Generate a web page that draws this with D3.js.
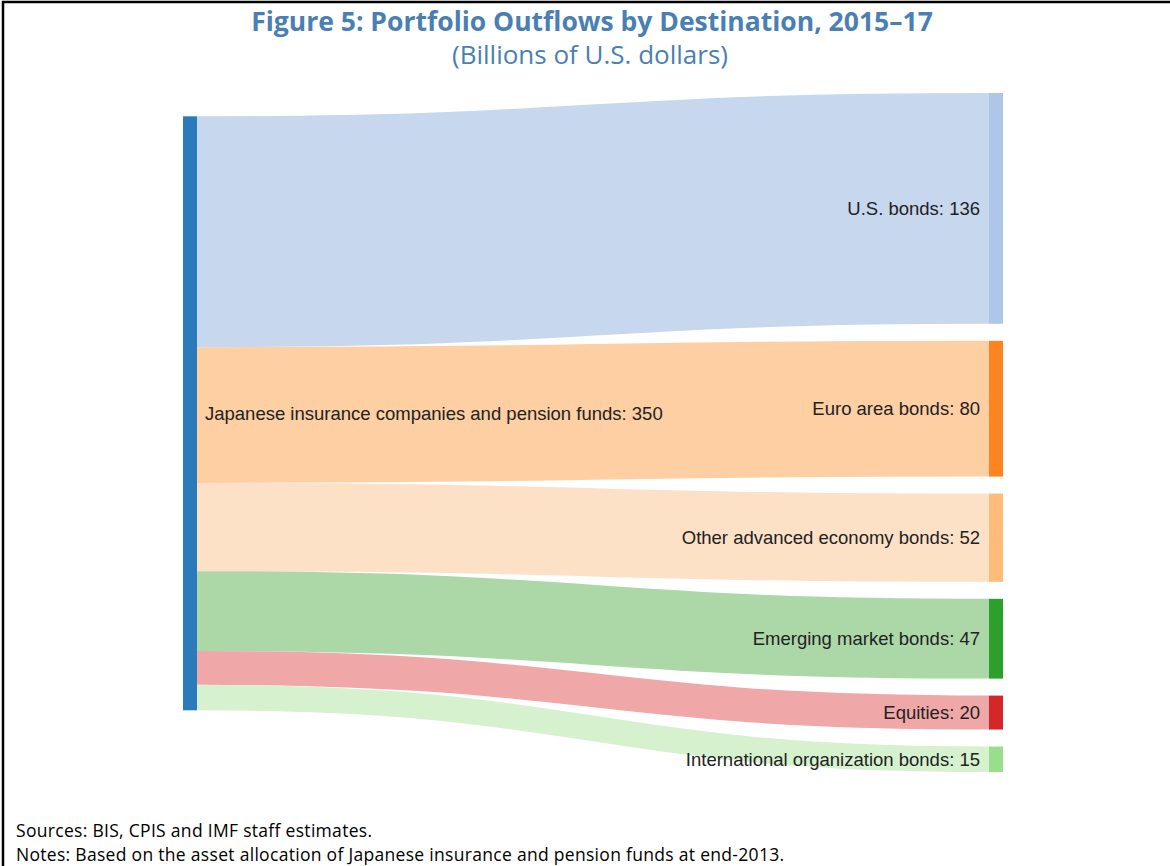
<!DOCTYPE html>
<html>
<head>
<meta charset="utf-8">
<script src="https://cdn.jsdelivr.net/npm/d3@7/dist/d3.min.js"></script>
<style>
  html, body { margin: 0; padding: 0; background: #fff; }
  svg { display: block; }
</style>
</head>
<body>
<svg id="chart" width="1170" height="866"></svg>
<script>
// ---------- DATA ----------
const sourceName = "Japanese insurance companies and pension funds";
const sourceTotal = 350;
const destinations = [
  "U.S. bonds",
  "Euro area bonds",
  "Other advanced economy bonds",
  "Emerging market bonds",
  "Equities",
  "International organization bonds"
];
const flowValues = [136, 80, 52, 47, 20, 15];
const sourceColor = "#2b7bba";
const nodeColors = ["#aec7e8", "#fd8421", "#ffbb78", "#2ca02c", "#d62728", "#98df8a"];
const linkColors = ["#c6d7ee", "#fdcfa3", "#fde1c7", "#acd8a8", "#efa7a8", "#d5f1ce"];
const titleText = "Figure 5: Portfolio Outflows by Destination, 2015\u201317";
const subtitleText = "(Billions of U.S. dollars)";
const footnotes = [
  "Sources: BIS, CPIS and IMF staff estimates.",
  "Notes: Based on the asset allocation of Japanese insurance and pension funds at end-2013."
];

// ---------- LAYOUT ----------
const W = 1170, H = 866;
const svg = d3.select("#chart");

const nodeWidth = 14;
const nodePadding = 17;
const extentTop = 93, extentBottom = 772;
const xCol = d3.scaleLinear().domain([0, 1]).range([183, 989]);

const totalRight = d3.sum(flowValues);
const ky = (extentBottom - extentTop - nodePadding * (destinations.length - 1)) / totalRight;
const vScale = d3.scaleLinear().domain([0, totalRight]).range([0, totalRight * ky]);

// right column nodes
let yCursor = extentTop;
const targets = destinations.map((name, i) => {
  const h = vScale(flowValues[i]);
  const n = { name, value: flowValues[i], x0: xCol(1), x1: xCol(1) + nodeWidth, y0: yCursor, y1: yCursor + h, color: nodeColors[i], linkColor: linkColors[i] };
  yCursor += h + nodePadding;
  return n;
});

// source link offsets (relative to source node top)
let off = 0;
const srcOffsets = flowValues.map(v => { const o = off; off += vScale(v); return o; });
// relax source node so that links are as horizontal as possible (weighted average)
const srcY0 = d3.sum(targets, (t, i) => t.value * (((t.y0 + t.y1) / 2) - (srcOffsets[i] + vScale(t.value) / 2))) / totalRight;
const source = { name: sourceName, value: sourceTotal, x0: xCol(0), x1: xCol(0) + nodeWidth, y0: srcY0, y1: srcY0 + vScale(sourceTotal) };

const links = targets.map((t, i) => ({
  width: vScale(t.value),
  sy: source.y0 + srcOffsets[i] + vScale(t.value) / 2,
  ty: (t.y0 + t.y1) / 2,
  color: t.linkColor
}));

// ---------- DRAW ----------
// frame
svg.append("path")
  .attr("d", `M3,${H} L3,2 L${W},2`)
  .attr("fill", "none").attr("stroke", "#000").attr("stroke-width", 2.5);

// title
const titleColor = "#4a7fb3";
svg.append("text")
  .attr("x", 592).attr("y", 31)
  .attr("text-anchor", "middle")
  .attr("font-family", "'Open Sans', sans-serif")
  .attr("font-weight", "bold").attr("font-size", 26.5)
  .attr("fill", titleColor)
  .text(titleText);
svg.append("text")
  .attr("x", 590).attr("y", 64)
  .attr("text-anchor", "middle")
  .attr("font-family", "'Open Sans', sans-serif")
  .attr("font-size", 26)
  .attr("fill", titleColor)
  .text(subtitleText);

// links
const linkGen = d3.linkHorizontal().x(d => d[0]).y(d => d[1]);
svg.append("g").selectAll("path").data(links).join("path")
  .attr("d", d => linkGen({ source: [source.x1, d.sy], target: [targets[0].x0, d.ty] }))
  .attr("fill", "none")
  .attr("stroke", d => d.color)
  .attr("stroke-width", d => d.width);

// nodes
svg.append("rect")
  .attr("x", source.x0).attr("y", source.y0)
  .attr("width", nodeWidth).attr("height", source.y1 - source.y0)
  .attr("fill", sourceColor);
svg.append("g").selectAll("rect").data(targets).join("rect")
  .attr("x", d => d.x0).attr("y", d => d.y0)
  .attr("width", nodeWidth).attr("height", d => d.y1 - d.y0)
  .attr("fill", d => d.color);

// labels
const labelFont = "'Liberation Sans', Arial, sans-serif";
svg.append("text")
  .attr("x", source.x1 + 8).attr("y", (source.y0 + source.y1) / 2)
  .attr("dy", "0.35em")
  .attr("font-family", labelFont).attr("font-size", 18.5).attr("fill", "#222")
  .text(`${source.name}: ${source.value}`);
svg.append("g").selectAll("text").data(targets).join("text")
  .attr("x", d => d.x0 - 9).attr("y", d => (d.y0 + d.y1) / 2)
  .attr("dy", "0.35em")
  .attr("text-anchor", "end")
  .attr("font-family", labelFont).attr("font-size", 18.5).attr("fill", "#222")
  .text(d => `${d.name}: ${d.value}`);

// footnotes
svg.append("g").selectAll("text").data(footnotes).join("text")
  .attr("x", 16).attr("y", (d, i) => 837 + i * 24)
  .attr("font-family", "'Open Sans', sans-serif")
  .attr("font-size", 17.5).attr("letter-spacing", 0.3).attr("fill", "#000")
  .text(d => d);
</script>
</body>
</html>
